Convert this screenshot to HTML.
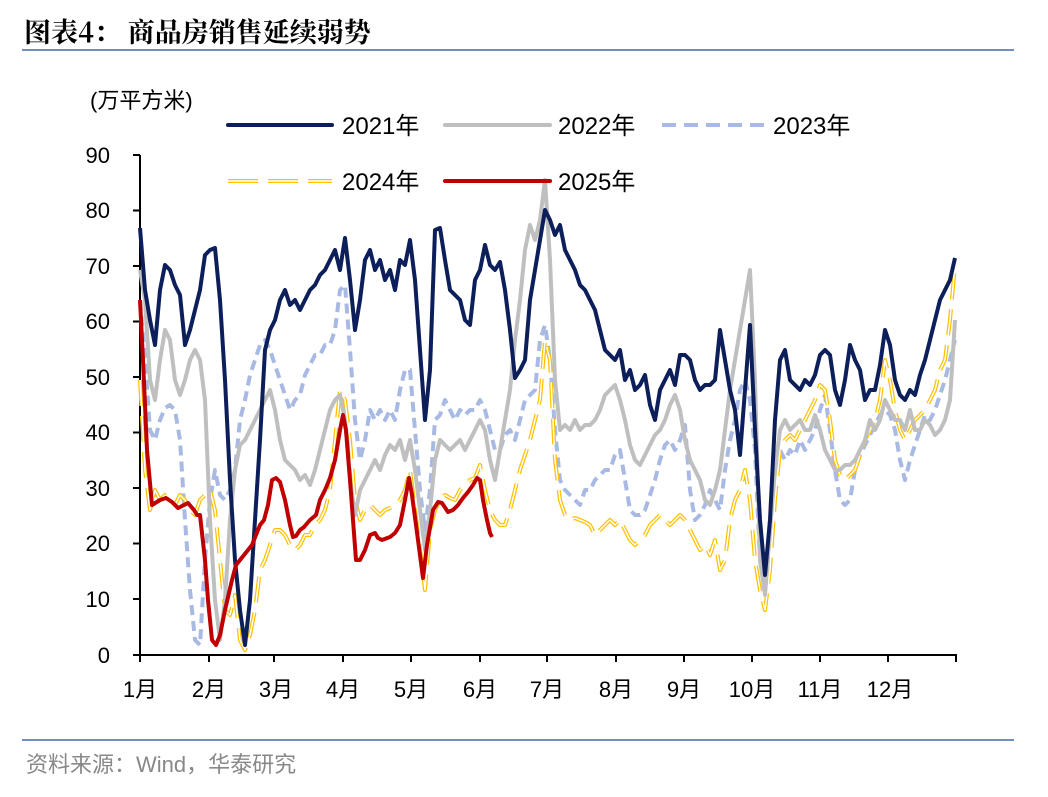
<!DOCTYPE html>
<html><head><meta charset="utf-8"><style>
body{margin:0;background:#fff;width:1048px;height:792px;overflow:hidden;font-family:"Liberation Sans","Noto Sans CJK SC",sans-serif}
</style></head><body>
<svg width="1048" height="792" viewBox="0 0 1048 792" xmlns="http://www.w3.org/2000/svg" font-family="Liberation Sans, Noto Sans CJK SC, sans-serif">
<text x="24" y="42" font-size="27" font-weight="bold" fill="#000" font-family="Noto Serif CJK SC, Noto Sans CJK SC, serif">图表4：  商品房销售延续弱势</text>
<line x1="22" y1="50" x2="1014" y2="50" stroke="#6f8fbf" stroke-width="2"/>
<text x="90" y="108" font-size="22" fill="#000">(万平方米)</text>
<g stroke="#000" stroke-width="2">
<line x1="140" y1="155" x2="140" y2="655"/>
<line x1="140" y1="655" x2="957" y2="655"/>
<line x1="133" y1="155" x2="140" y2="155"/><line x1="133" y1="210.5" x2="140" y2="210.5"/><line x1="133" y1="266" x2="140" y2="266"/><line x1="133" y1="321.5" x2="140" y2="321.5"/><line x1="133" y1="377" x2="140" y2="377"/><line x1="133" y1="432.5" x2="140" y2="432.5"/><line x1="133" y1="488" x2="140" y2="488"/><line x1="133" y1="543.5" x2="140" y2="543.5"/><line x1="133" y1="599" x2="140" y2="599"/><line x1="133" y1="655" x2="140" y2="655"/>
<line x1="140" y1="655" x2="140" y2="662"/><line x1="209" y1="655" x2="209" y2="662"/><line x1="274" y1="655" x2="274" y2="662"/><line x1="343" y1="655" x2="343" y2="662"/><line x1="411" y1="655" x2="411" y2="662"/><line x1="480" y1="655" x2="480" y2="662"/><line x1="547" y1="655" x2="547" y2="662"/><line x1="616" y1="655" x2="616" y2="662"/><line x1="684" y1="655" x2="684" y2="662"/><line x1="752" y1="655" x2="752" y2="662"/><line x1="820" y1="655" x2="820" y2="662"/><line x1="888" y1="655" x2="888" y2="662"/><line x1="956" y1="655" x2="956" y2="662"/>
</g>
<g font-size="22" fill="#000" text-anchor="end">
<text x="110" y="163">90</text><text x="110" y="218">80</text><text x="110" y="274">70</text><text x="110" y="329">60</text><text x="110" y="385">50</text><text x="110" y="440">40</text><text x="110" y="496">30</text><text x="110" y="551">20</text><text x="110" y="607">10</text><text x="110" y="663">0</text>
</g>
<g font-size="22" fill="#000" text-anchor="middle">
<text x="140" y="697">1月</text><text x="209" y="697">2月</text><text x="276" y="697">3月</text><text x="343" y="697">4月</text><text x="411" y="697">5月</text><text x="480" y="697">6月</text><text x="547" y="697">7月</text><text x="616" y="697">8月</text><text x="684" y="697">9月</text><text x="752" y="697">10月</text><text x="820" y="697">11月</text><text x="890" y="697">12月</text>
</g>
<g fill="none" stroke-linejoin="round">
<polyline stroke="#a8b9e4" stroke-width="4" stroke-dasharray="10,6" points="140,300 145,360 150,430 155,440 160,420 165,408 170,405 175,410 180,440 185,520 190,590 195,640 200,645 205,560 210,500 215,470 220,495 225,500 230,490 235,470 240,420 245,400 250,375 255,360 260,345 265,340 270,350 275,365 280,380 285,395 290,410 295,400 300,395 305,375 310,365 315,355 320,355 325,345 330,345 335,330 340,290 345,285 350,350 355,420 360,460 365,440 370,410 375,420 380,410 385,420 390,410 395,420 400,390 405,370 410,370 415,430 420,490 425,530 430,490 435,420 440,415 445,400 450,410 455,420 460,410 465,415 470,410 475,410 480,400 485,410 490,430 495,450 500,450 505,435 510,430 515,440 520,420 525,400 530,395 535,390 540,340 545,325 550,360 555,430 560,480 565,490 570,495 575,500 580,505 585,490 590,490 595,480 600,475 605,470 610,470 615,455 620,450 625,480 630,510 635,515 640,515 645,510 650,495 655,480 660,460 665,445 670,440 675,450 680,440 685,425 690,490 695,520 700,515 705,505 710,490 715,500 720,510 725,470 730,440 735,420 740,390 745,380 750,400 755,450 760,560 765,590 770,520 775,470 780,450 785,460 790,450 795,455 800,440 805,450 810,440 815,430 820,410 825,395 830,430 835,470 840,500 845,505 850,500 855,470 860,455 865,445 870,435 875,425 880,415 885,410 890,415 895,430 900,460 905,480 910,460 915,445 920,430 925,415 930,420 935,410 940,395 945,380 950,360 955,340"/>
<polyline stroke="#ffc000" stroke-width="4" stroke-dasharray="26,10" points="140,380 145,470 150,510 155,490 160,500 165,495 170,500 175,505 180,495 185,500 190,510 195,515 200,500 205,495 210,490 215,510 220,560 225,610 230,615 235,595 240,640 245,650 250,635 255,610 260,570 265,560 270,545 275,530 280,530 285,535 290,545 295,550 300,545 305,535 310,535 315,525 320,520 325,510 330,490 335,440 340,390 345,400 350,440 355,500 360,520 365,510 370,505 375,510 380,515 385,510 390,508 395,505 400,500 405,490 410,470 415,510 420,550 425,590 430,530 435,510 440,500 445,495 450,498 455,500 460,490 465,485 470,480 475,478 480,465 485,490 490,510 495,520 500,525 505,525 510,510 515,490 520,470 525,455 530,440 535,420 540,400 545,340 550,360 555,460 560,500 565,515 570,520 575,518 580,520 585,522 590,525 595,535 600,530 605,525 610,520 615,525 620,520 625,530 630,540 635,545 640,540 645,535 650,525 655,520 660,515 665,520 670,525 675,520 680,515 685,520 690,530 695,540 700,550 705,545 710,555 715,540 720,570 725,560 730,520 735,500 740,490 745,470 750,500 755,560 760,590 765,610 770,570 775,500 780,450 785,440 790,435 795,440 800,430 805,420 810,410 815,400 820,385 825,390 830,420 835,460 840,475 845,480 850,475 855,470 860,455 865,440 870,430 875,420 880,400 885,360 890,380 895,410 900,430 905,440 910,430 915,420 920,415 925,410 930,400 935,390 940,370 945,360 950,320 955,265"/>
<polyline stroke="#fff" stroke-width="1.5" stroke-dasharray="26,10" points="140,380 145,470 150,510 155,490 160,500 165,495 170,500 175,505 180,495 185,500 190,510 195,515 200,500 205,495 210,490 215,510 220,560 225,610 230,615 235,595 240,640 245,650 250,635 255,610 260,570 265,560 270,545 275,530 280,530 285,535 290,545 295,550 300,545 305,535 310,535 315,525 320,520 325,510 330,490 335,440 340,390 345,400 350,440 355,500 360,520 365,510 370,505 375,510 380,515 385,510 390,508 395,505 400,500 405,490 410,470 415,510 420,550 425,590 430,530 435,510 440,500 445,495 450,498 455,500 460,490 465,485 470,480 475,478 480,465 485,490 490,510 495,520 500,525 505,525 510,510 515,490 520,470 525,455 530,440 535,420 540,400 545,340 550,360 555,460 560,500 565,515 570,520 575,518 580,520 585,522 590,525 595,535 600,530 605,525 610,520 615,525 620,520 625,530 630,540 635,545 640,540 645,535 650,525 655,520 660,515 665,520 670,525 675,520 680,515 685,520 690,530 695,540 700,550 705,545 710,555 715,540 720,570 725,560 730,520 735,500 740,490 745,470 750,500 755,560 760,590 765,610 770,570 775,500 780,450 785,440 790,435 795,440 800,430 805,420 810,410 815,400 820,385 825,390 830,420 835,460 840,475 845,480 850,475 855,470 860,455 865,440 870,430 875,420 880,400 885,360 890,380 895,410 900,430 905,440 910,430 915,420 920,415 925,410 930,400 935,390 940,370 945,360 950,320 955,265"/>
<polyline stroke="#bfbfbf" stroke-width="4" points="140,270 145,300 150,380 155,400 160,360 165,330 170,340 175,380 180,395 185,380 190,360 195,350 200,360 205,400 210,520 215,600 220,640 225,600 230,520 235,470 240,445 245,440 250,430 255,420 260,410 265,400 270,390 275,410 280,440 285,460 290,465 295,470 300,480 305,475 310,485 315,470 320,450 325,430 330,410 335,400 340,395 345,420 350,480 355,515 360,490 365,480 370,470 375,460 380,470 385,455 390,445 395,450 400,440 405,460 410,440 415,470 420,510 425,550 430,510 435,460 440,440 445,445 450,450 455,445 460,440 465,450 470,440 475,430 480,420 485,430 490,460 495,480 500,450 505,420 510,390 515,340 520,300 525,250 530,225 535,240 540,220 545,180 550,260 555,380 560,430 565,425 570,430 575,420 580,430 585,425 590,425 595,420 600,410 605,395 610,390 615,385 620,400 625,420 630,445 635,460 640,465 645,455 650,445 655,435 660,430 665,420 670,405 675,395 680,410 685,440 690,460 695,470 700,480 705,500 710,505 715,490 720,470 725,430 730,390 735,360 740,330 745,300 750,270 755,380 760,560 765,595 770,530 775,470 780,430 785,420 790,430 795,425 800,420 805,430 810,430 815,415 820,430 825,450 830,460 835,470 840,470 845,465 850,465 855,460 860,450 865,440 870,420 875,430 880,420 885,400 890,410 895,420 900,420 905,430 910,410 915,430 920,430 925,420 930,425 935,435 940,430 945,420 950,400 955,320"/>
<polyline stroke="#0c1f5a" stroke-width="4" points="140,228 145,290 150,320 155,345 160,290 165,265 170,270 175,285 180,295 185,345 190,330 195,310 200,290 205,255 210,250 215,248 220,300 225,380 230,480 235,560 240,610 245,645 250,600 255,520 260,440 265,350 270,330 275,320 280,300 285,290 290,305 295,300 300,310 305,300 310,290 315,285 320,275 325,270 330,260 335,250 340,270 345,238 350,280 355,330 360,300 365,260 370,250 375,270 380,260 385,280 390,270 395,290 400,260 405,265 410,240 415,280 420,350 425,420 430,370 435,230 440,228 445,260 450,290 455,295 460,300 465,320 470,325 475,280 480,270 485,245 490,265 495,270 500,262 505,290 510,330 515,378 520,370 525,360 530,300 535,270 540,240 545,210 550,220 555,235 560,225 565,250 570,260 575,270 580,285 585,290 590,300 595,310 600,330 605,350 610,355 615,360 620,350 625,380 630,370 635,390 640,385 645,375 650,405 655,420 660,390 665,380 670,370 675,385 680,355 685,355 690,360 695,380 700,390 705,385 710,385 715,380 720,330 725,360 730,390 735,410 740,455 745,390 750,325 755,430 760,520 765,575 770,520 775,420 780,360 785,350 790,380 795,385 800,390 805,380 810,385 815,375 820,355 825,350 830,355 835,390 840,405 845,380 850,345 855,360 860,370 865,400 870,390 875,390 880,365 885,330 890,345 895,380 900,395 905,400 910,390 915,395 920,375 925,360 930,340 935,320 940,300 945,290 950,280 955,258"/>
<polyline stroke="#c00000" stroke-width="4" points="140,300 143,360 147,450 152,505 160,500 166,498 172,502 178,508 184,505 188,503 194,510 197,515 200,515 205,560 208,600 212,640 216,645 220,635 225,610 232,580 236,565 240,560 244,555 248,550 252,545 256,535 260,525 264,520 268,505 272,480 276,478 280,482 285,500 290,525 293,537 296,536 300,530 304,527 310,520 316,515 320,500 325,490 330,478 335,460 340,430 343,415 346,430 350,480 353,520 356,560 360,560 365,550 370,535 375,533 378,538 382,540 390,537 395,533 400,525 405,500 409,478 412,495 418,540 423,578 427,545 433,510 438,502 442,503 448,512 453,510 458,505 463,498 468,492 473,485 477,478 480,480 483,500 487,520 490,533 492,537"/>
</g>
<g fill="none">
<line x1="228" y1="125" x2="332" y2="125" stroke="#0c1f5a" stroke-width="4" stroke-linecap="round"/>
<line x1="445" y1="125" x2="550" y2="125" stroke="#bfbfbf" stroke-width="4" stroke-linecap="round"/>
<line x1="662" y1="125" x2="767" y2="125" stroke="#a8b9e4" stroke-width="4" stroke-dasharray="14,8"/>
<line x1="228" y1="181" x2="332" y2="181" stroke="#ffc000" stroke-width="4" stroke-dasharray="30,10"/>
<line x1="228" y1="181" x2="332" y2="181" stroke="#fff" stroke-width="1.5" stroke-dasharray="30,10"/>
<line x1="445" y1="181" x2="550" y2="181" stroke="#c00000" stroke-width="4" stroke-linecap="round"/>
</g>
<g font-size="24" fill="#000">
<text x="342" y="134">2021年</text><text x="558" y="134">2022年</text><text x="773" y="134">2023年</text>
<text x="342" y="190">2024年</text><text x="558" y="190">2025年</text>
</g>
<line x1="22" y1="740" x2="1014" y2="740" stroke="#6f8fbf" stroke-width="2"/>
<text x="26" y="772" font-size="22" fill="#888">资料来源：Wind，华泰研究</text>
</svg>
</body></html>
